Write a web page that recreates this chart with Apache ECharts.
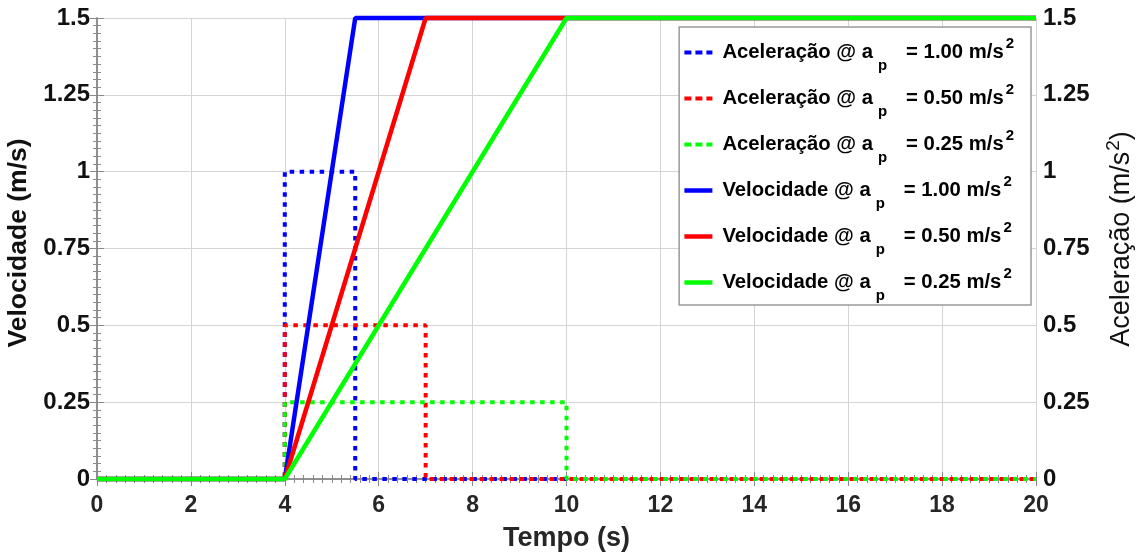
<!DOCTYPE html>
<html>
<head>
<meta charset="utf-8">
<script src="https://cdn.jsdelivr.net/npm/echarts@6/dist/echarts.min.js"></script>
<style>
  html, body { margin: 0; padding: 0; background: #fff; }
  #chart { width: 1148px; height: 556px; }
</style>
</head>
<body>
<div id="chart"></div>
<script>
// Time (s) vs velocity / acceleration for three acceleration profiles
const xTicks = [0, 2, 4, 6, 8, 10, 12, 14, 16, 18, 20];
const yTicks = [0, 0.25, 0.5, 0.75, 1, 1.25, 1.5];

// acceleration steps [t, a]
const accel100 = [[0, 0], [4, 0], [4, 1], [5.5, 1], [5.5, 0], [20, 0]];
const accel050 = [[0, 0], [4, 0], [4, 0.5], [7, 0.5], [7, 0], [20, 0]];
const accel025 = [[0, 0], [4, 0], [4, 0.25], [10, 0.25], [10, 0], [20, 0]];

// velocity ramps [t, v]
const vel100 = [[0, 0], [4, 0], [5.5, 1.5], [20, 1.5]];
const vel050 = [[0, 0], [4, 0], [7, 1.5], [20, 1.5]];
const vel025 = [[0, 0], [4, 0], [10, 1.5], [20, 1.5]];

const profiles = ['1.00', '0.50', '0.25'];
const colors = ['#0000ff', '#ff0000', '#00ff00'];

const FONT = '"Liberation Sans", Arial, sans-serif';

function accName(p) { return 'Aceleração @ a_p = ' + p; }
function velName(p) { return 'Velocidade @ a_p = ' + p; }

const accelData = [accel100, accel050, accel025];
const velData = [vel100, vel050, vel025];

const series = [];
const legendItems = [];
accelData.forEach((d, i) => {
  const name = accName(profiles[i]);
  series.push({
    name: name,
    type: 'line',
    yAxisIndex: 1,
    data: d,
    symbol: 'none',
    clip: false,
    lineStyle: { color: colors[i], width: 4, type: [4.5, 5.5], cap: 'butt' },
    itemStyle: { color: colors[i] },
    z: 2
  });
  legendItems.push({
    name: name,
    itemStyle: { opacity: 0 },
    lineStyle: { width: 4, type: [7, 4], color: colors[i] }
  });
});
velData.forEach((d, i) => {
  const name = velName(profiles[i]);
  series.push({
    name: name,
    type: 'line',
    yAxisIndex: 0,
    data: d,
    symbol: 'none',
    clip: false,
    lineStyle: { color: colors[i], width: 4.5 },
    itemStyle: { color: colors[i] },
    z: 3
  });
  legendItems.push({
    name: name,
    itemStyle: { opacity: 0 },
    lineStyle: { width: 4.5, type: 'solid', color: colors[i] }
  });
});

const axisLine = { show: true, lineStyle: { color: '#8a8a8a', width: 1.5 } };
const tick = { show: true, inside: true, length: 7, lineStyle: { color: '#8a8a8a', width: 1 } };
const minor = { show: true, splitNumber: 10, length: 4, lineStyle: { color: '#8a8a8a', width: 1 } };
const grid = { show: true, lineStyle: { color: '#d4d4d4', width: 1 } };

// legend text: main words, subscript p, superscript 2
const legendRich = {
  a: { fontFamily: FONT, fontWeight: 'bold', fontSize: 20.3, color: '#000', padding: [0, 0, 0, 5] },
  t: { fontFamily: FONT, fontWeight: 'bold', fontSize: 20.3, color: '#000' },
  sub: { fontFamily: FONT, fontWeight: 'bold', fontSize: 15, color: '#000', padding: [26, 19, 0, 5] },
  sup: { fontFamily: FONT, fontWeight: 'bold', fontSize: 15, color: '#000', padding: [0, 0, 18, 2] }
};

const option = {
  animation: false,
  backgroundColor: '#ffffff',
  grid: { left: 97, right: 112, top: 18, bottom: 77, outerBoundsMode: 'none' },
  legend: {
    orient: 'vertical',
    right: 117,
    top: 27,
    backgroundColor: '#ffffff',
    borderColor: '#999999',
    borderWidth: 1.5,
    borderRadius: 0,
    padding: [9, 17, 2, 3],
    itemGap: 9,
    itemWidth: 28,
    itemHeight: 4,
    formatter: function (name) {
      const parts = name.split(' @ a_p = ');
      return '{a|' + parts[0] + ' @ a}{sub|p}{t|= ' + parts[1] + ' m/s}{sup|2}';
    },
    textStyle: {
      fontFamily: FONT,
      fontWeight: 'bold',
      fontSize: 20.3,
      color: '#000',
      rich: legendRich
    },
    data: legendItems
  },
  xAxis: [
    {
      type: 'value', position: 'bottom', min: 0, max: 20, interval: 2,
      name: 'Tempo (s)', nameLocation: 'middle', nameGap: 46,
      nameTextStyle: { fontFamily: FONT, fontWeight: 'bold', fontSize: 27, color: '#262626' },
      axisLine: axisLine, axisTick: tick, minorTick: minor,
      splitLine: grid,
      axisLabel: {
        fontFamily: FONT, fontWeight: 'bold', fontSize: 23, color: '#262626', margin: 15,
        formatter: v => (xTicks.indexOf(v) >= 0 ? String(v) : '')
      }
    },
    {
      type: 'value', position: 'top', min: 0, max: 20, interval: 2,
      axisLine: axisLine, axisTick: tick, minorTick: minor,
      splitLine: { show: false }, axisLabel: { show: false }
    }
  ],
  yAxis: [
    {
      type: 'value', position: 'left', min: 0, max: 1.5, interval: 0.25,
      name: 'Velocidade (m/s)', nameLocation: 'middle', nameGap: 60, nameRotate: 90,
      nameTextStyle: { fontFamily: FONT, fontWeight: 'bold', fontSize: 26.5, color: '#111', padding: [0, 0, 0, 11] },
      axisLine: axisLine, axisTick: tick, minorTick: minor,
      splitLine: grid,
      axisLabel: {
        fontFamily: FONT, fontWeight: 'bold', fontSize: 24, color: '#111', margin: 7,
        formatter: v => (yTicks.indexOf(v) >= 0 ? String(v) : '')
      }
    },
    {
      type: 'value', position: 'right', min: 0, max: 1.5, interval: 0.25,
      name: '{t|Aceleração (m/s}{sup|2}{t|)}', nameLocation: 'middle', nameGap: 71, nameRotate: 90,
      nameTextStyle: {
        fontFamily: FONT, fontSize: 27, color: '#111', padding: [0, 0, 0, 19],
        rich: {
          t: { fontFamily: FONT, fontSize: 27, color: '#111', lineHeight: 30 },
          sup: { fontFamily: FONT, fontSize: 19, color: '#111', lineHeight: 30, padding: [0, 0, 16, 1] }
        }
      },
      axisLine: axisLine, axisTick: tick, minorTick: minor,
      splitLine: { show: false },
      axisLabel: {
        fontFamily: FONT, fontWeight: 'bold', fontSize: 24, color: '#111', margin: 7,
        formatter: v => (yTicks.indexOf(v) >= 0 ? String(v) : '')
      }
    }
  ],
  series: series
};

const chart = echarts.init(document.getElementById('chart'), null, { renderer: 'canvas' });
chart.setOption(option);
</script>
</body>
</html>
